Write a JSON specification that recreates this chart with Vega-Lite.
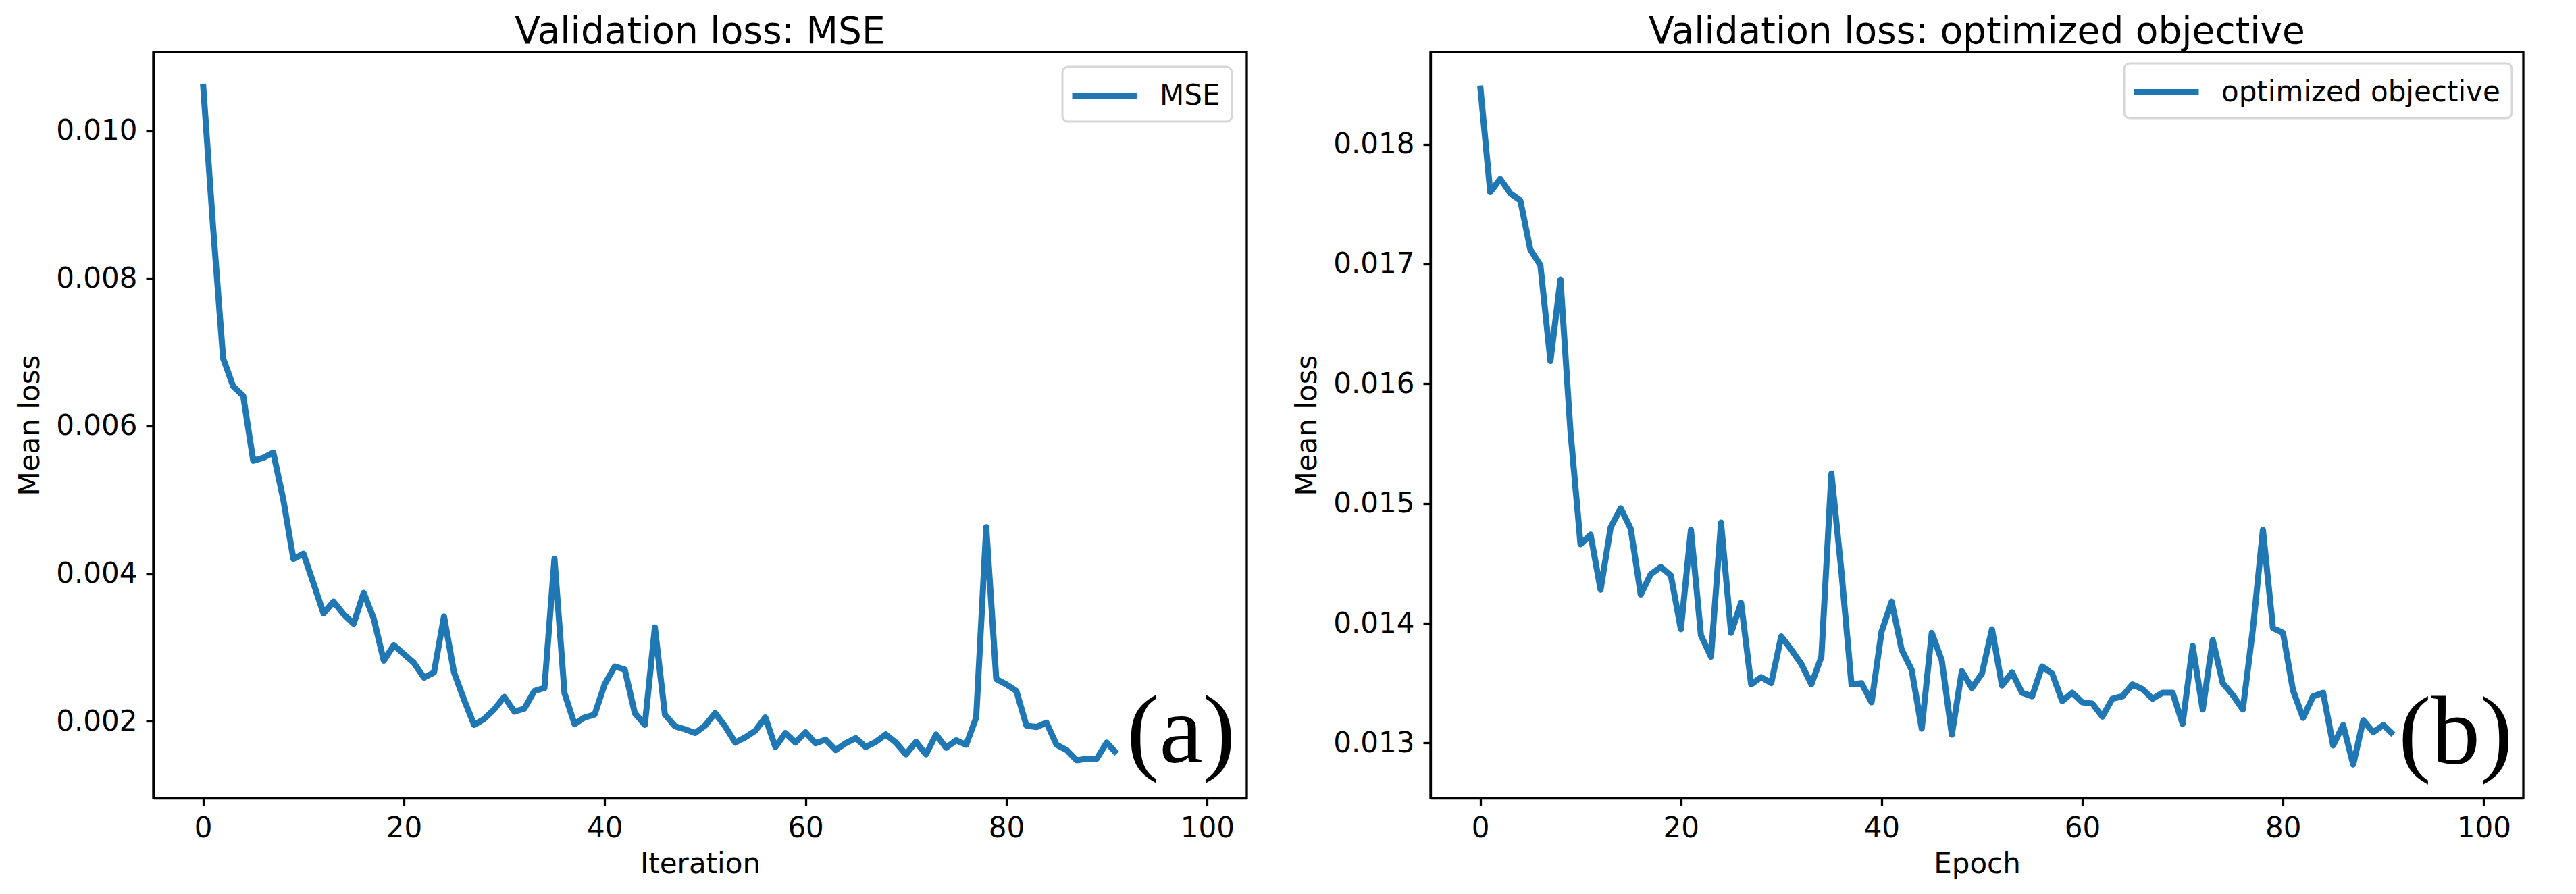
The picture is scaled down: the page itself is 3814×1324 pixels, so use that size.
{
  "$schema": "https://vega.github.io/schema/vega-lite/v6.json",
  "background": "white",
  "autosize": {"type": "pad"},
  "padding": {"left": 22, "top": 18, "right": 0, "bottom": 0},
  "spacing": 65,
  "config": {
    "font": "DejaVu Sans",
    "view": {"stroke": "black", "strokeWidth": 3.3},
    "axis": {
      "grid": false,
      "domainColor": "black",
      "domainWidth": 3.3,
      "tickColor": "black",
      "tickWidth": 3.3,
      "tickSize": 11,
      "labelPadding": 13,
      "labelColor": "black",
      "labelFont": "DejaVu Sans",
      "labelFontSize": 42,
      "titleFont": "DejaVu Sans",
      "titleFontSize": 42,
      "titleFontWeight": "normal",
      "titleColor": "black"
    },
    "axisY": {"titlePadding": 16},
    "axisX": {"titlePadding": 12},
    "title": {"font": "DejaVu Sans", "fontSize": 55, "fontWeight": "normal", "color": "black", "offset": 1, "anchor": "middle"}
  },
  "resolve": {"scale": {"color": "independent", "x": "independent", "y": "independent"}, "legend": {"color": "independent"}},
  "hconcat": [
    {
      "title": "Validation loss: MSE",
      "width": 1619,
      "height": 1105,
      "layer": [
        {
          "data": {"values": [
            {"iteration": 0, "loss": 0.01064}, {"iteration": 1, "loss": 0.0087}, {"iteration": 2, "loss": 0.00692}, {"iteration": 3, "loss": 0.00654}, {"iteration": 4, "loss": 0.00641},
            {"iteration": 5, "loss": 0.00553}, {"iteration": 6, "loss": 0.00557}, {"iteration": 7, "loss": 0.00564}, {"iteration": 8, "loss": 0.005}, {"iteration": 9, "loss": 0.0042},
            {"iteration": 10, "loss": 0.00427}, {"iteration": 11, "loss": 0.00387}, {"iteration": 12, "loss": 0.00346}, {"iteration": 13, "loss": 0.00362}, {"iteration": 14, "loss": 0.00345},
            {"iteration": 15, "loss": 0.00332}, {"iteration": 16, "loss": 0.00374}, {"iteration": 17, "loss": 0.00339}, {"iteration": 18, "loss": 0.00282}, {"iteration": 19, "loss": 0.00303},
            {"iteration": 20, "loss": 0.00291}, {"iteration": 21, "loss": 0.00279}, {"iteration": 22, "loss": 0.00259}, {"iteration": 23, "loss": 0.00266}, {"iteration": 24, "loss": 0.00342},
            {"iteration": 25, "loss": 0.00266}, {"iteration": 26, "loss": 0.00229}, {"iteration": 27, "loss": 0.00195}, {"iteration": 28, "loss": 0.00203}, {"iteration": 29, "loss": 0.00216},
            {"iteration": 30, "loss": 0.00233}, {"iteration": 31, "loss": 0.00213}, {"iteration": 32, "loss": 0.00217}, {"iteration": 33, "loss": 0.00241}, {"iteration": 34, "loss": 0.00245},
            {"iteration": 35, "loss": 0.0042}, {"iteration": 36, "loss": 0.00238}, {"iteration": 37, "loss": 0.00196}, {"iteration": 38, "loss": 0.00205}, {"iteration": 39, "loss": 0.00209},
            {"iteration": 40, "loss": 0.0025}, {"iteration": 41, "loss": 0.00274}, {"iteration": 42, "loss": 0.0027}, {"iteration": 43, "loss": 0.00211}, {"iteration": 44, "loss": 0.00195},
            {"iteration": 45, "loss": 0.00327}, {"iteration": 46, "loss": 0.00209}, {"iteration": 47, "loss": 0.00193}, {"iteration": 48, "loss": 0.00189}, {"iteration": 49, "loss": 0.00184},
            {"iteration": 50, "loss": 0.00194}, {"iteration": 51, "loss": 0.00211}, {"iteration": 52, "loss": 0.00193}, {"iteration": 53, "loss": 0.00171}, {"iteration": 54, "loss": 0.00178},
            {"iteration": 55, "loss": 0.00187}, {"iteration": 56, "loss": 0.00205}, {"iteration": 57, "loss": 0.00165}, {"iteration": 58, "loss": 0.00184}, {"iteration": 59, "loss": 0.00171},
            {"iteration": 60, "loss": 0.00185}, {"iteration": 61, "loss": 0.0017}, {"iteration": 62, "loss": 0.00175}, {"iteration": 63, "loss": 0.00161}, {"iteration": 64, "loss": 0.0017},
            {"iteration": 65, "loss": 0.00177}, {"iteration": 66, "loss": 0.00165}, {"iteration": 67, "loss": 0.00172}, {"iteration": 68, "loss": 0.00182}, {"iteration": 69, "loss": 0.00171},
            {"iteration": 70, "loss": 0.00155}, {"iteration": 71, "loss": 0.00172}, {"iteration": 72, "loss": 0.00155}, {"iteration": 73, "loss": 0.00182}, {"iteration": 74, "loss": 0.00164},
            {"iteration": 75, "loss": 0.00174}, {"iteration": 76, "loss": 0.00168}, {"iteration": 77, "loss": 0.00205}, {"iteration": 78, "loss": 0.00463}, {"iteration": 79, "loss": 0.00257},
            {"iteration": 80, "loss": 0.0025}, {"iteration": 81, "loss": 0.00241}, {"iteration": 82, "loss": 0.00194}, {"iteration": 83, "loss": 0.00192}, {"iteration": 84, "loss": 0.00198},
            {"iteration": 85, "loss": 0.00168}, {"iteration": 86, "loss": 0.00161}, {"iteration": 87, "loss": 0.00147}, {"iteration": 88, "loss": 0.00149}, {"iteration": 89, "loss": 0.00149},
            {"iteration": 90, "loss": 0.00171}, {"iteration": 91, "loss": 0.00156}
          ]},
          "mark": {"type": "line", "strokeWidth": 9, "strokeJoin": "round", "strokeCap": "butt"},
          "encoding": {
            "x": {"field": "iteration", "type": "quantitative", "scale": {"domain": [-4.95, 103.95], "nice": false, "zero": false}, "axis": {"values": [0, 20, 40, 60, 80, 100], "format": "d", "title": "Iteration"}},
            "y": {"field": "loss", "type": "quantitative", "scale": {"domain": [0.000957, 0.01107], "nice": false, "zero": false}, "axis": {"values": [0.002, 0.004, 0.006, 0.008, 0.01], "format": ".3f", "title": "Mean loss"}},
            "color": {
              "datum": "MSE", "type": "nominal",
              "scale": {"range": ["#1f77b4"]},
              "legend": {
                "title": null, "orient": "top-right", "offset": 22, "padding": 17,
                "symbolType": "M-2.2857,0L2.2857,0", "symbolSize": 1764, "symbolStrokeWidth": 9, "symbolOffset": 20,
                "labelOffset": 56, "labelFontSize": 42, "labelFont": "DejaVu Sans", "labelColor": "black", "labelLimit": 0,
                "strokeColor": "#d6d6d6", "fillColor": "white", "cornerRadius": 8,
                "encode": {"legend": {"update": {"strokeWidth": {"value": 3}}}}
              }
            }
          }
        },
        {
          "data": {"values": [{"label": "(a)", "iteration": 97.4, "loss": 0.00144}]},
          "mark": {"type": "text", "font": "Liberation Serif", "fontSize": 145, "align": "center", "baseline": "alphabetic", "color": "black"},
          "encoding": {
            "x": {"field": "iteration", "type": "quantitative"},
            "y": {"field": "loss", "type": "quantitative"},
            "text": {"field": "label"}
          }
        }
      ]
    },
    {
      "title": "Validation loss: optimized objective",
      "width": 1618,
      "height": 1105,
      "layer": [
        {
          "data": {"values": [
            {"epoch": 0, "loss": 0.01849}, {"epoch": 1, "loss": 0.0176}, {"epoch": 2, "loss": 0.01771}, {"epoch": 3, "loss": 0.01759}, {"epoch": 4, "loss": 0.01753},
            {"epoch": 5, "loss": 0.01712}, {"epoch": 6, "loss": 0.01699}, {"epoch": 7, "loss": 0.01619}, {"epoch": 8, "loss": 0.01687}, {"epoch": 9, "loss": 0.0156},
            {"epoch": 10, "loss": 0.01466}, {"epoch": 11, "loss": 0.01474}, {"epoch": 12, "loss": 0.01428}, {"epoch": 13, "loss": 0.0148}, {"epoch": 14, "loss": 0.01496},
            {"epoch": 15, "loss": 0.01479}, {"epoch": 16, "loss": 0.01424}, {"epoch": 17, "loss": 0.01441}, {"epoch": 18, "loss": 0.01447}, {"epoch": 19, "loss": 0.0144},
            {"epoch": 20, "loss": 0.01395}, {"epoch": 21, "loss": 0.01478}, {"epoch": 22, "loss": 0.0139}, {"epoch": 23, "loss": 0.01372}, {"epoch": 24, "loss": 0.01484},
            {"epoch": 25, "loss": 0.01392}, {"epoch": 26, "loss": 0.01417}, {"epoch": 27, "loss": 0.01349}, {"epoch": 28, "loss": 0.01355}, {"epoch": 29, "loss": 0.0135},
            {"epoch": 30, "loss": 0.01389}, {"epoch": 31, "loss": 0.01378}, {"epoch": 32, "loss": 0.01366}, {"epoch": 33, "loss": 0.01349}, {"epoch": 34, "loss": 0.01372},
            {"epoch": 35, "loss": 0.01525}, {"epoch": 36, "loss": 0.01443}, {"epoch": 37, "loss": 0.01349}, {"epoch": 38, "loss": 0.0135}, {"epoch": 39, "loss": 0.01334},
            {"epoch": 40, "loss": 0.01393}, {"epoch": 41, "loss": 0.01418}, {"epoch": 42, "loss": 0.01378}, {"epoch": 43, "loss": 0.01361}, {"epoch": 44, "loss": 0.01312},
            {"epoch": 45, "loss": 0.01392}, {"epoch": 46, "loss": 0.01369}, {"epoch": 47, "loss": 0.01307}, {"epoch": 48, "loss": 0.0136}, {"epoch": 49, "loss": 0.01346},
            {"epoch": 50, "loss": 0.01358}, {"epoch": 51, "loss": 0.01395}, {"epoch": 52, "loss": 0.01348}, {"epoch": 53, "loss": 0.01359}, {"epoch": 54, "loss": 0.01342},
            {"epoch": 55, "loss": 0.01339}, {"epoch": 56, "loss": 0.01364}, {"epoch": 57, "loss": 0.01358}, {"epoch": 58, "loss": 0.01335}, {"epoch": 59, "loss": 0.01342},
            {"epoch": 60, "loss": 0.01334}, {"epoch": 61, "loss": 0.01333}, {"epoch": 62, "loss": 0.01322}, {"epoch": 63, "loss": 0.01337}, {"epoch": 64, "loss": 0.01339},
            {"epoch": 65, "loss": 0.01349}, {"epoch": 66, "loss": 0.01345}, {"epoch": 67, "loss": 0.01337}, {"epoch": 68, "loss": 0.01342}, {"epoch": 69, "loss": 0.01342},
            {"epoch": 70, "loss": 0.01316}, {"epoch": 71, "loss": 0.01381}, {"epoch": 72, "loss": 0.01328}, {"epoch": 73, "loss": 0.01386}, {"epoch": 74, "loss": 0.0135},
            {"epoch": 75, "loss": 0.0134}, {"epoch": 76, "loss": 0.01328}, {"epoch": 77, "loss": 0.01395}, {"epoch": 78, "loss": 0.01478}, {"epoch": 79, "loss": 0.01396},
            {"epoch": 80, "loss": 0.01392}, {"epoch": 81, "loss": 0.01344}, {"epoch": 82, "loss": 0.01321}, {"epoch": 83, "loss": 0.01339}, {"epoch": 84, "loss": 0.01342},
            {"epoch": 85, "loss": 0.01298}, {"epoch": 86, "loss": 0.01315}, {"epoch": 87, "loss": 0.01282}, {"epoch": 88, "loss": 0.01319}, {"epoch": 89, "loss": 0.01309},
            {"epoch": 90, "loss": 0.01315}, {"epoch": 91, "loss": 0.01307}
          ]},
          "mark": {"type": "line", "strokeWidth": 9, "strokeJoin": "round", "strokeCap": "butt"},
          "encoding": {
            "x": {"field": "epoch", "type": "quantitative", "scale": {"domain": [-4.95, 103.95], "nice": false, "zero": false}, "axis": {"values": [0, 20, 40, 60, 80, 100], "format": "d", "title": "Epoch"}},
            "y": {"field": "loss", "type": "quantitative", "scale": {"domain": [0.01254, 0.01877], "nice": false, "zero": false}, "axis": {"values": [0.013, 0.014, 0.015, 0.016, 0.017, 0.018], "format": ".3f", "title": "Mean loss"}},
            "color": {
              "datum": "optimized objective", "type": "nominal",
              "scale": {"range": ["#1f77b4"]},
              "legend": {
                "title": null, "orient": "top-right", "offset": 17, "padding": 17,
                "symbolType": "M-2.2857,0L2.2857,0", "symbolSize": 1764, "symbolStrokeWidth": 9, "symbolOffset": 20,
                "labelOffset": 56, "labelFontSize": 42, "labelFont": "DejaVu Sans", "labelColor": "black", "labelLimit": 0,
                "strokeColor": "#d6d6d6", "fillColor": "white", "cornerRadius": 8,
                "encode": {"legend": {"update": {"strokeWidth": {"value": 3}}}}
              }
            }
          }
        },
        {
          "data": {"values": [{"label": "(b)", "epoch": 97.2, "loss": 0.01283}]},
          "mark": {"type": "text", "font": "Liberation Serif", "fontSize": 145, "align": "center", "baseline": "alphabetic", "color": "black"},
          "encoding": {
            "x": {"field": "epoch", "type": "quantitative"},
            "y": {"field": "loss", "type": "quantitative"},
            "text": {"field": "label"}
          }
        }
      ]
    }
  ]
}
